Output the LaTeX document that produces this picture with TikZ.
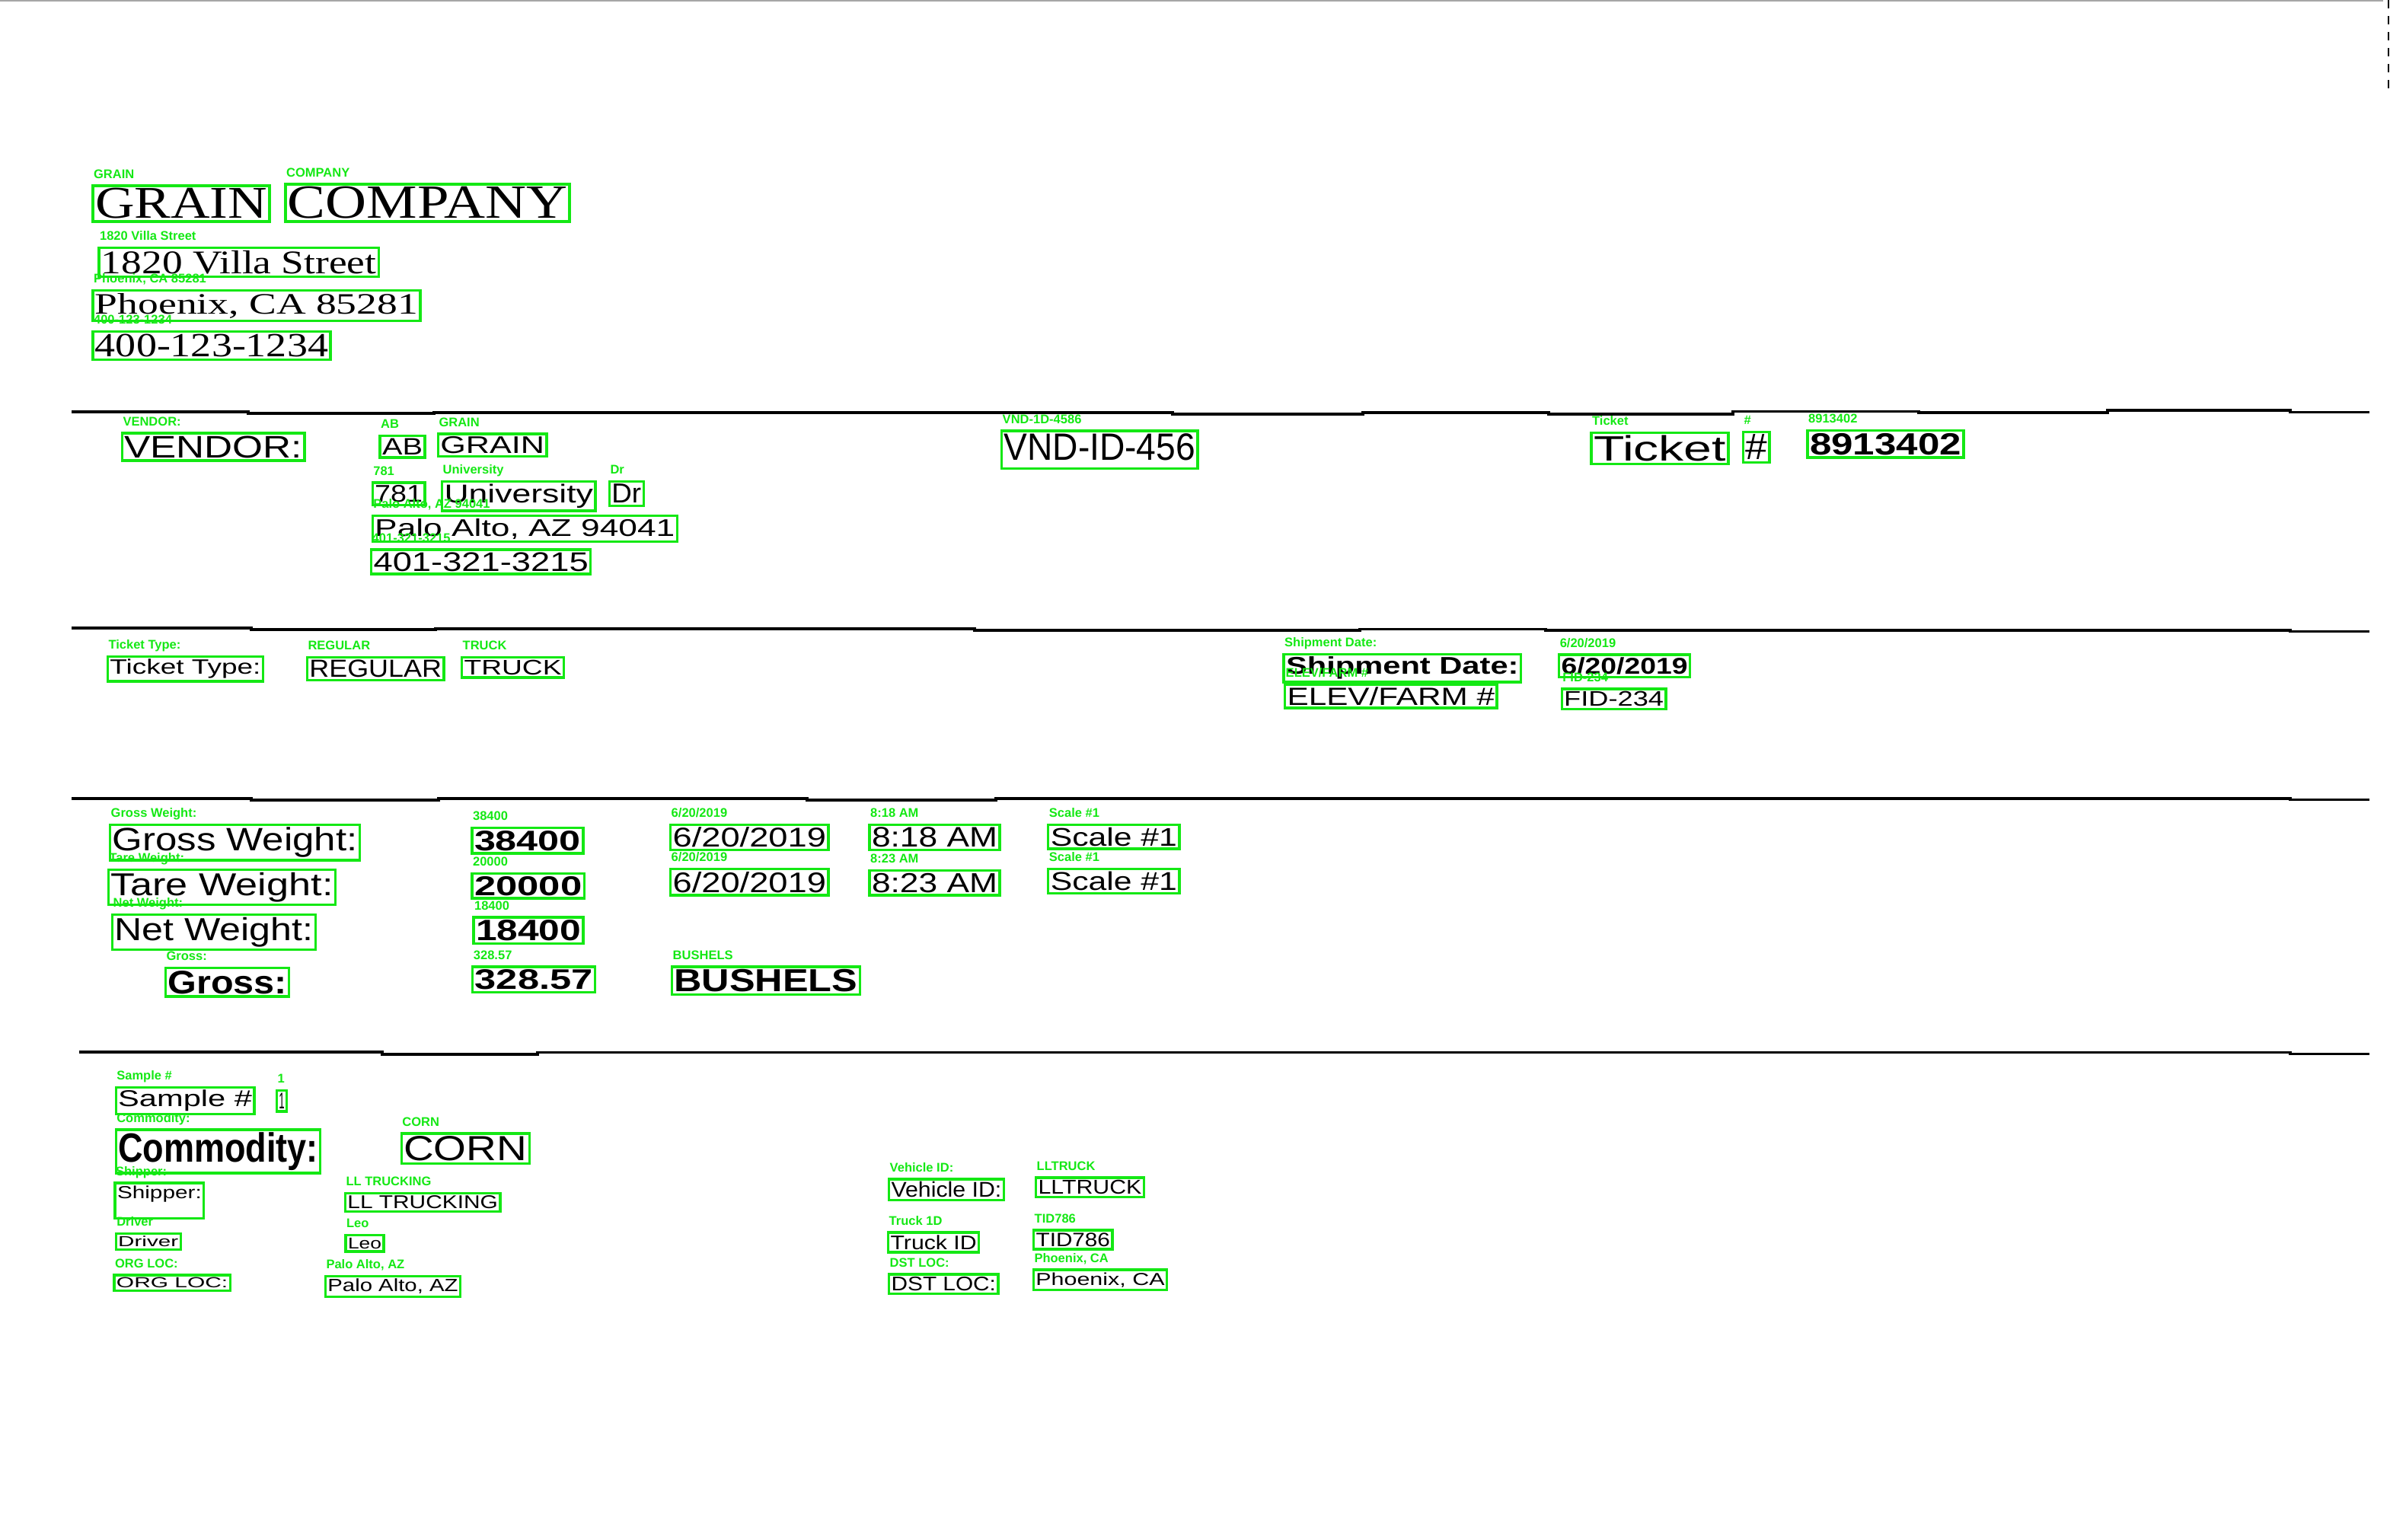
\documentclass[tikz,border=0pt]{standalone}
\usepackage{fontspec}
\usepackage{graphicx}
\setmainfont{Liberation Sans}
\newfontfamily\headfont{Liberation Serif}
\usetikzlibrary{calc}

\definecolor{ocrgreen}{RGB}{20,232,20}

% one scanned word: name, x1, y1, x2, y2, font, text, tag
\newcommand{\ocrword}[8]{%
  \pgfmathsetlengthmacro{\wordw}{(#4-#2-3)*0.02cm}%
  \pgfmathsetlengthmacro{\wordh}{(#5-#3-3.5)*0.02cm}%
  \node[wordbox, minimum width={(#4-#2)*0.02cm}, minimum height={(#5-#3)*0.02cm}]
    (#1) at ({(#2+#4)/2},{(#3+#5)/2}) {\resizebox*{\wordw}{\wordh}{#6#7}};
  \node[tagtext] (#1-tag) at ([shift={(1,-4.2)}]#1.north west) {#8};
}

\begin{document}
\begin{tikzpicture}[x={(0.02cm,0)}, y={(0,-0.02cm)},
    wordbox/.style={draw=ocrgreen, line width=0.9pt, inner sep=0pt, text=black},
    tagtext/.style={text=ocrgreen, font=\bfseries\fontsize{4.7}{4.7}\selectfont, anchor=base west, inner sep=0pt},
    rule/.style={black, line width=1pt}]
        \useasboundingbox (0,0) rectangle (1569.5,1011.5);

        % Page border of the scan
        \draw[gray!70, line width=0.5pt] (0,0.5) -- (1565,0.5);
        \draw[black, dashed, line width=0.8pt] (1568.5,0) -- (1568.5,58);

        % Company header
        \ocrword{grain}{61}{122}{177}{145.5}{\headfont}{GRAIN}{GRAIN}
        \ocrword{company}{187.5}{121}{374}{145.5}{\headfont}{COMPANY}{COMPANY}
        \ocrword{street}{65}{162.8}{248.7}{181.7}{\headfont}{1820 Villa Street}{1820 Villa Street}
        \ocrword{city}{61}{190.8}{276}{210.8}{\headfont}{Phoenix, CA 85281}{Phoenix, CA 85281}
        \ocrword{phone}{61}{217.8}{217}{236.3}{\headfont}{400-123-1234}{400-123-1234}

        % Rules between the sections
        \draw[rule] (47,270.5) -- (163,270.5) -- (163,271.5) -- (285,271.5) -- (285,271) -- (770,271)
            -- (770,272) -- (895,272) -- (895,271) -- (1017,271) -- (1017,272) -- (1138,272)
            -- (1138,270.2) -- (1260,270.2) -- (1260,271) -- (1384,271) -- (1384,269.5) -- (1504,269.5)
            -- (1504,270.8) -- (1556,270.8);
        \draw[rule] (47,412.5) -- (165,412.5) -- (165,413.5) -- (286,413.5) -- (286,413) -- (640,413)
            -- (640,414) -- (893,414) -- (893,413.2) -- (1015,413.2) -- (1015,414) -- (1504,414)
            -- (1504,414.8) -- (1556,414.8);
        \draw[rule] (47,524.5) -- (165,524.5) -- (165,525.5) -- (288,525.5) -- (288,524.5) -- (530,524.5)
            -- (530,525.5) -- (654,525.5) -- (654,524.5) -- (1504,524.5) -- (1504,525.3) -- (1556,525.3);
        \draw[rule] (52,691) -- (251,691) -- (251,692.5) -- (353,692.5) -- (353,691.3) -- (1504,691.3)
            -- (1504,692.2) -- (1556,692.2);

        % Vendor
        \ocrword{vendor}{80.2}{284.5}{200}{302.5}{}{VENDOR:}{VENDOR:}
        \ocrword{vab}{249.5}{286.3}{279}{300.5}{}{AB}{AB}
        \ocrword{vgrain}{287.7}{285}{359}{299.7}{}{GRAIN}{GRAIN}
        \ocrword{vnum}{244.6}{317}{279}{331.7}{}{781}{781}
        \ocrword{vuniv}{290.3}{316.2}{391}{335.5}{}{University}{University}
        \ocrword{vdr}{400.2}{316.3}{422.6}{332.2}{}{Dr}{Dr}
        \ocrword{vcity}{244.6}{338.8}{444.7}{355.8}{}{Palo Alto, AZ 94041}{Palo Alto, AZ 94041}
        \ocrword{vphone}{243.8}{361}{387.9}{377}{}{401-321-3215}{401-321-3215}
        \ocrword{vid}{657.8}{283}{786.5}{307.7}{}{VND-ID-456\rule[-0.15em]{0pt}{0pt}}{VND-1D-4586}
        \ocrword{ticket}{1045}{284.2}{1135}{304.7}{}{Ticket}{Ticket}
        \ocrword{hash}{1144.7}{283.7}{1162}{303.7}{}{\#}{\#}
        \ocrword{ticketno}{1187}{282.7}{1289.5}{300.5}{\bfseries}{8913402}{8913402}

        % Ticket type and shipment
        \ocrword{ttype}{70.7}{431.3}{172.7}{447.5}{}{Ticket Type:}{Ticket Type:}
        \ocrword{regular}{201.7}{431.7}{291.5}{446.7}{}{REGULAR}{REGULAR}
        \ocrword{truck}{303.3}{431.7}{370.3}{445}{}{TRUCK}{TRUCK}
        \ocrword{shipdate}{843}{429.7}{998.8}{448}{\bfseries}{Shipment Date:}{Shipment Date:}
        \ocrword{elev}{843.8}{449.5}{983}{465}{}{ELEV/FARM \#}{ELEV/FARM \#}
        \ocrword{shipday}{1023.8}{430}{1109.8}{444.7}{\bfseries}{6/20/2019}{6/20/2019}
        \ocrword{fid}{1025.6}{452.5}{1094}{465.8}{}{FID-234}{FID-234}

        % Weights
        \ocrword{grosslbl}{72.3}{541.7}{236.3}{565}{}{Gross Weight:}{Gross Weight:}
        \ocrword{tarelbl}{71.2}{571.3}{220.3}{594.2}{}{Tare Weight:}{Tare Weight:}
        \ocrword{netlbl}{73.8}{600.8}{207.3}{623.8}{}{Net Weight:}{Net Weight:}
        \ocrword{bushlbl}{108.7}{635.8}{189.9}{654.5}{\bfseries}{Gross:}{Gross:}
        \ocrword{grossval}{310}{543.8}{383}{560.5}{\bfseries}{38400}{38400}
        \ocrword{tareval}{310}{573.8}{383.7}{590}{\bfseries}{20000}{20000}
        \ocrword{netval}{311}{602.5}{383}{619.7}{\bfseries}{18400}{18400}
        \ocrword{bushval}{310.4}{635}{390.8}{651.7}{\bfseries}{328.57}{328.57}
        \ocrword{grossday}{440.3}{541.7}{544}{558.3}{}{6/20/2019}{6/20/2019}
        \ocrword{tareday}{440.3}{570.8}{544}{588}{}{6/20/2019}{6/20/2019}
        \ocrword{grosstime}{571}{541.7}{656.5}{558.3}{}{8:18 AM}{8:18 AM}
        \ocrword{taretime}{571}{571.7}{656.5}{588}{}{8:23 AM}{8:23 AM}
        \ocrword{grossscale}{688.4}{541.7}{774.5}{557.5}{}{Scale \#1}{Scale \#1}
        \ocrword{tarescale}{688.4}{570.8}{774.5}{586.7}{}{Scale \#1}{Scale \#1}
        \ocrword{bushunit}{441.3}{635}{564.7}{653.3}{\bfseries}{BUSHELS}{BUSHELS}

        % Sample, commodity and transport
        \ocrword{samplelbl}{76.1}{714.2}{167}{731.7}{}{Sample \#}{Sample \#}
        \ocrword{sampleval}{181.7}{716.2}{188.4}{730}{}{1}{1}
        \ocrword{commlbl}{76.1}{742}{210.4}{770.5}{\bfseries}{Commodity:}{Commodity:}
        \ocrword{commval}{263.6}{744.5}{347.6}{764.2}{}{CORN}{CORN}
        \ocrword{shiplbl}{75.5}{777}{133.9}{800.3}{}{Shipper:\rule[-1em]{0pt}{0pt}}{Shipper:}
        \ocrword{shipval}{226.7}{783.7}{328.5}{795.8}{}{LL TRUCKING}{LL TRUCKING}
        \ocrword{drvlbl}{76.1}{810.3}{118.6}{820.8}{}{Driver}{Driver}
        \ocrword{drvval}{227}{811.3}{252}{822}{}{Leo}{Leo}
        \ocrword{orglbl}{75}{837.5}{151.1}{847.8}{}{ORG LOC:}{ORG LOC:}
        \ocrword{orgval}{213.7}{838.3}{302.3}{851.7}{}{Palo Alto, AZ}{Palo Alto, AZ}
        \ocrword{vehlbl}{583.8}{774.5}{659.2}{788.3}{}{Vehicle ID:}{Vehicle ID:}
        \ocrword{vehval}{680.3}{773.5}{751.2}{786.3}{}{LLTRUCK}{LLTRUCK}
        \ocrword{trklbl}{583.3}{809.5}{642.8}{822.5}{}{Truck ID}{Truck 1D}
        \ocrword{trkval}{678.8}{808}{730.5}{820.5}{}{TID786}{TID786}
        \ocrword{dstlbl}{583.8}{837}{655.5}{849.7}{}{DST LOC:}{DST LOC:}
        \ocrword{dstval}{678.7}{834}{766.3}{847.2}{}{Phoenix, CA}{Phoenix, CA}

    \end{tikzpicture}
\end{document}
